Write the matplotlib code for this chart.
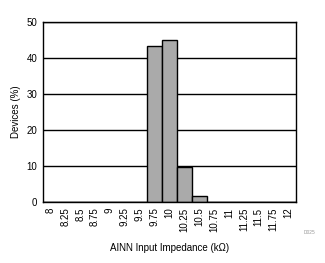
import matplotlib
matplotlib.use("Agg")
import matplotlib.pyplot as plt

plt.rcParams['font.family'] = ['Liberation Sans', 'DejaVu Sans']

bins = ["8", "8.25", "8.5", "8.75", "9", "9.25", "9.5", "9.75", "10",
        "10.25", "10.5", "10.75", "11", "11.25", "11.5", "11.75", "12"]
devices = [0, 0, 0, 0, 0, 0, 0, 43.2, 44.9, 9.7, 1.6, 0, 0, 0, 0, 0, 0]

fig = plt.figure(figsize=(3.25, 2.63), dpi=100)
ax = fig.add_axes([43 / 325, 61 / 263, 253 / 325, 180 / 263])

ax.set_axisbelow(True)
ax.yaxis.grid(True, color='black', linewidth=1.0)
ax.bar(range(len(bins)), devices, width=1.0, color='#aaaaaa',
       edgecolor='black', linewidth=1.0)

ax.set_xlim(-0.5, len(bins) - 0.5)
ax.set_ylim(0, 50)
ax.set_yticks([0, 10, 20, 30, 40, 50])
ax.set_xticks(range(len(bins)))
ax.set_xticklabels(bins, rotation=90)
ax.tick_params(axis='both', length=0, labelsize=7, pad=4)

for s in ax.spines.values():
    s.set_color('black')
    s.set_linewidth(1.0)

ax.set_ylabel('Devices (%)', fontsize=7, labelpad=4)
ax.set_xlabel('AINN Input Impedance (k\u03a9)', fontsize=7, labelpad=8)
fig.text(309 / 325, 1 - 232 / 263, 'D025', fontsize=3.5, color='#999999',
         ha='center', va='center')

fig.savefig('out.png', dpi=100)
